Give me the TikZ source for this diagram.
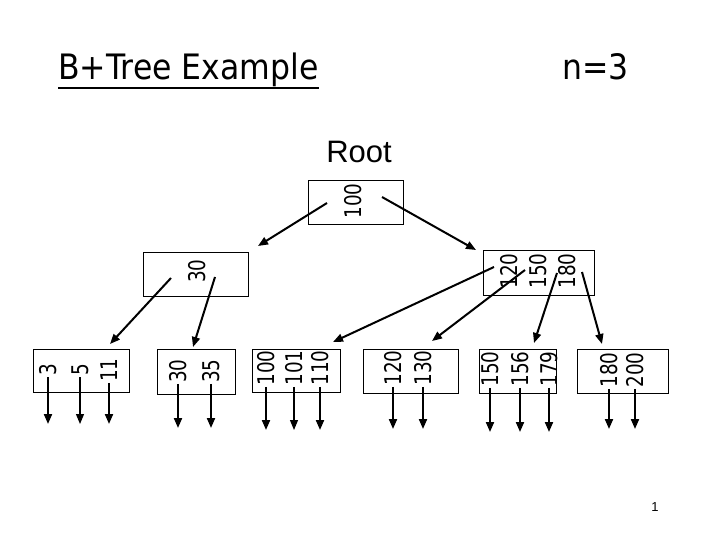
\documentclass[tikz,border=0pt]{standalone}
\usepackage{fontspec}
\setmainfont{DejaVu Sans}
\newfontfamily\arialf{Liberation Sans}
\usetikzlibrary{arrows.meta}
\newcommand\narrowtxt[2]{\scalebox{#1}[1]{#2}}
\begin{document}
\begin{tikzpicture}[x=1pt,y=-1pt,
  box/.style={draw,line width=0.8pt,inner sep=0,minimum width=#1},
  num/.style={rotate=90,inner sep=0,font=\fontsize{23}{23}\selectfont},
  arr/.style={line width=2pt,-{Triangle[length=10pt,width=8pt]}},
  tarr/.style={line width=1.1pt,-{Triangle[length=10pt,width=8pt]}}]
\useasboundingbox (0,0) rectangle (720,540);
% titles
\node[anchor=base west,inner sep=0,font=\fontsize{35}{35}\selectfont] (title) at (58,80) {\narrowtxt{0.9}{B+Tree Example}};
\draw[line width=2pt] (title.south west) ++(0,1) coordinate (ul1) -- (title.south east |- ul1);
\node[anchor=base west,inner sep=0,font=\fontsize{35}{35}\selectfont] (nn) at (562,80) {\narrowtxt{0.9}{n=3}};
\node[anchor=base,inner sep=0,font=\arialf\fontsize{31}{31}\selectfont] (rootlbl) at (359,163) {Root};
\node[inner sep=0,font=\arialf\fontsize{13}{13}\selectfont] (pg) at (655,507) {1};
% boxes
\node[box=95pt,minimum height=44pt] (root) at (355.5,202) {};
\node[box=105pt,minimum height=44pt] (n30) at (195.5,274) {};
\node[box=111pt,minimum height=45pt] (n120) at (538.5,272.5) {};
\node[box=96pt,minimum height=43pt] (L1) at (81,370.5) {};
\node[box=78pt,minimum height=45pt] (L2) at (196,371.5) {};
\node[box=88pt,minimum height=43pt] (L3) at (296,370.5) {};
\node[box=95pt,minimum height=44pt] (L4) at (410.5,371) {};
\node[box=77pt,minimum height=44pt] (L5) at (517.5,371) {};
\node[box=91pt,minimum height=44pt] (L6) at (622.5,371) {};
% keys
\node[num] (k100) at (353,201) {\narrowtxt{0.8}{100}};
\node[num] (k30) at (197,271) {\narrowtxt{0.8}{30}};
\node[num] (k120) at (509,271) {\narrowtxt{0.8}{120}};
\node[num] (k150) at (538,271) {\narrowtxt{0.8}{150}};
\node[num] (k180) at (567,271) {\narrowtxt{0.8}{180}};
\node[num] (a3) at (48,370) {\narrowtxt{0.8}{3}};
\node[num] (a5) at (80,370) {\narrowtxt{0.8}{5}};
\node[num] (a11) at (109,370) {\narrowtxt{0.8}{11}};
\node[num] (b30) at (178,371) {\narrowtxt{0.8}{30}};
\node[num] (b35) at (211,371) {\narrowtxt{0.8}{35}};
\node[num] (c100) at (266,368) {\narrowtxt{0.8}{100}};
\node[num] (c101) at (294,368) {\narrowtxt{0.8}{101}};
\node[num] (c110) at (320,368) {\narrowtxt{0.8}{110}};
\node[num] (d120) at (393,368) {\narrowtxt{0.8}{120}};
\node[num] (d130) at (423,368) {\narrowtxt{0.8}{130}};
\node[num] (e150) at (490,369) {\narrowtxt{0.8}{150}};
\node[num] (e156) at (520,369) {\narrowtxt{0.8}{156}};
\node[num] (e179) at (549,369) {\narrowtxt{0.8}{179}};
\node[num] (f180) at (609,370) {\narrowtxt{0.8}{180}};
\node[num] (f200) at (635,370) {\narrowtxt{0.8}{200}};
% pointer coordinates
\coordinate (p1) at (327,203); \coordinate (t1) at (258,246);
\coordinate (p2) at (382,197); \coordinate (t2) at (476,250);
\coordinate (p3) at (171,278); \coordinate (t3) at (110,344);
\coordinate (p4) at (215,277); \coordinate (t4) at (193,347);
\coordinate (p5) at (494,267); \coordinate (t5) at (333,342);
\coordinate (p6) at (525,270); \coordinate (t6) at (432,341);
\coordinate (p7) at (557,273); \coordinate (t7) at (534,343);
\coordinate (p8) at (582,272); \coordinate (t8) at (602,344);
\draw[arr] (p1) -- (t1);
\draw[arr] (p2) -- (t2);
\draw[arr] (p3) -- (t3);
\draw[arr] (p4) -- (t4);
\draw[arr] (p5) -- (t5);
\draw[arr] (p6) -- (t6);
\draw[arr] (p7) -- (t7);
\draw[arr] (p8) -- (t8);
% record pointers
\foreach \k/\ty/\sty in {a3/424/arr,a5/424/tarr,a11/424/arr,b30/428/arr,b35/428/arr,c100/430/arr,c101/430/tarr,c110/430/arr,d120/429/arr,d130/429/arr,e150/432/arr,e156/432/arr,e179/432/arr,f180/429/arr,f200/429/arr}{
  \path (0,\ty) coordinate (lvl);
  \coordinate (\k-beg) at ([yshift=-1pt]\k.west);
  \coordinate (\k-end) at (\k-beg |- lvl);
  \draw[\sty] (\k-beg) -- (\k-end);
}
\end{tikzpicture}
\end{document}
